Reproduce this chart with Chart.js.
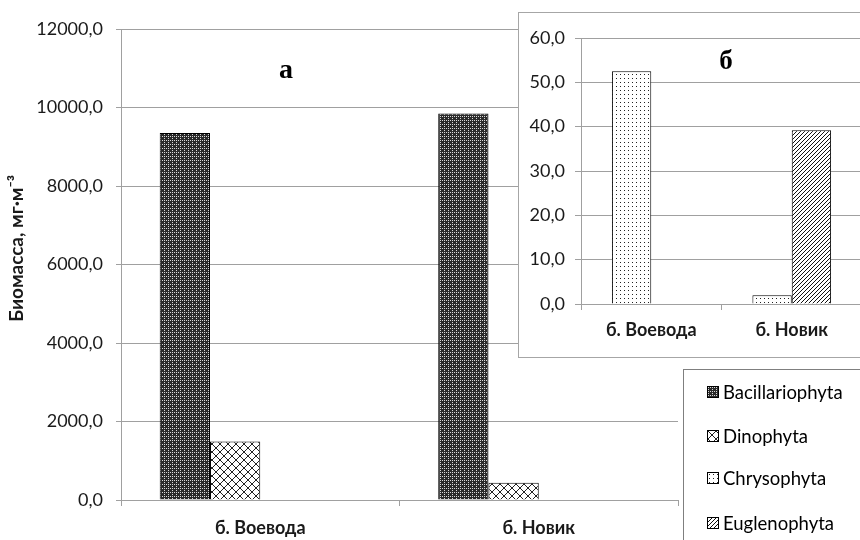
<!DOCTYPE html>
<html>
<head>
<meta charset="utf-8">
<script src="https://cdn.jsdelivr.net/npm/chart.js@4.4.0/dist/chart.umd.min.js"></script>
<style>
  html, body { margin: 0; padding: 0; background: #fff; overflow: hidden; }
  #wrap { position: relative; width: 860px; height: 540px; overflow: hidden; font-family: Lato, sans-serif; }
  #main { position: absolute; left: 0; top: 0; }
  #insetBox { position: absolute; left: 518px; top: 12px; width: 360px; height: 344px; border: 1px solid #a6a6a6; background: #fff; }
  #inset { display: block; }
  #legend { position: absolute; left: 683px; top: 369px; width: 200px; height: 200px; border: 1px solid #7f7f7f; background: #fff; }
  .lab { position: absolute; font-family: "Liberation Serif", serif; font-weight: bold; text-align: center; color: #000; }
  .item { position: absolute; left: 23px; height: 20px; display: flex; align-items: center; font-size: 18.5px; color: #000; white-space: nowrap; }
  .item canvas { margin-right: 4px; border: 1px solid #000; }
</style>
</head>
<body>
<div id="wrap">
  <canvas id="main" width="860" height="540"></canvas>
  <div class="lab" style="left:266px; top:55px; width:40px; font-size:28px; line-height:28px;">а</div>
  <div id="insetBox"><canvas id="inset" width="360" height="344"></canvas></div>
  <div class="lab" style="left:706px; top:47px; width:40px; font-size:27px; line-height:27px;">б</div>
  <div id="legend"></div>
</div>
<script>
const categories = ["б. Воевода", "б. Новик"];
const seriesNames = ["Bacillariophyta", "Dinophyta", "Chrysophyta", "Euglenophyta"];
const bacillariophyta = [9350, 9850];
const dinophyta = [1490, 440];
const chrysophyta = [52.5, 2.0];
const euglenophyta = [0, 39.2];
const mainTicks = { min: 0, max: 12000, step: 2000 };
const insetTicks = { min: 0, max: 60, step: 10 };
const yTitle = "Биомасса, мг·м⁻³";

const gridColor = "#a0a0a0";
const tickFont = { family: "Lato", size: 18 };
const boldFont = { family: "Lato", size: 18, weight: "bold" };

function fmt(v) {
  return v.toFixed(1).replace(".", ",");
}

function makePattern(kind) {
  const c = document.createElement("canvas");
  const g = c.getContext("2d");
  if (kind === "grid") {
    c.width = c.height = 4;
    g.fillStyle = "#2a2a2a";
    g.fillRect(0, 0, 4, 4);
    g.fillStyle = "#d8d8d8";
    g.fillRect(0, 0, 1, 1);
    g.fillRect(2, 0, 1, 1);
    g.fillRect(0, 2, 1, 1);
  } else if (kind === "cross") {
    c.width = c.height = 8;
    g.fillStyle = "#fff";
    g.fillRect(0, 0, 8, 8);
    g.fillStyle = "#222";
    for (let i = 0; i < 8; i++) {
      g.fillRect(i, i, 1, 1);
      g.fillRect(i, 7 - i, 1, 1);
    }
  } else if (kind === "dots") {
    c.width = c.height = 4;
    g.fillStyle = "#fff";
    g.fillRect(0, 0, 4, 4);
    g.fillStyle = "#222";
    g.fillRect(1, 1, 1, 1);
  } else {
    c.width = c.height = 4;
    g.fillStyle = "#fff";
    g.fillRect(0, 0, 4, 4);
    g.fillStyle = "#111";
    for (let i = 0; i < 4; i++) g.fillRect(i, 3 - i, 1, 1);
  }
  return g.createPattern(c, "repeat");
}

const patterns = {
  Bacillariophyta: makePattern("grid"),
  Dinophyta: makePattern("cross"),
  Chrysophyta: makePattern("dots"),
  Euglenophyta: makePattern("diag"),
};

function bar(label, data, catPct, border, fill) {
  return {
    label: label,
    data: data,
    backgroundColor: fill || patterns[label],
    borderColor: "#000",
    borderWidth: border,
    categoryPercentage: catPct,
    barPercentage: 1,
  };
}

// main chart (а): the two small groups are too low to show at this scale
new Chart(document.getElementById("main"), {
  type: "bar",
  data: {
    labels: categories,
    datasets: [
      bar(seriesNames[0], bacillariophyta, 0.722, 1),
      bar(seriesNames[1], dinophyta, 0.722, 1),
      bar(seriesNames[2], chrysophyta, 0.722, 0, "rgba(255,255,255,0)"),
      bar(seriesNames[3], euglenophyta, 0.722, 0, "rgba(255,255,255,0)"),
    ],
  },
  options: {
    responsive: false,
    animation: false,
    layout: { padding: { top: 29, right: 182, left: 0, bottom: 0 } },
    plugins: { legend: { display: false }, tooltip: { enabled: false } },
    scales: {
      x: {
        grid: { drawOnChartArea: false, drawTicks: true, tickLength: 6, color: gridColor },
        border: { color: gridColor },
        ticks: { font: boldFont, color: "#1a1a1a", padding: 11, maxRotation: 0 },
        afterFit(s) { s.height = 40; },
      },
      y: {
        min: mainTicks.min,
        max: mainTicks.max,
        grid: { color: gridColor, tickLength: 5 },
        border: { color: gridColor },
        ticks: { stepSize: mainTicks.step, callback: fmt, font: tickFont, color: "#1a1a1a", padding: 13 },
        title: {
          display: true,
          text: "       " + yTitle,
          font: { family: "Lato", size: 19, weight: "bold" },
          color: "#1a1a1a",
          padding: { top: 5, bottom: 0 },
        },
        afterFit(s) { s.width = 121; },
      },
    },
  },
});

// inset chart (б)
new Chart(document.getElementById("inset"), {
  type: "bar",
  data: {
    labels: categories,
    datasets: [
      bar(seriesNames[2], chrysophyta, 0.56, 1),
      bar(seriesNames[3], euglenophyta, 0.56, 1),
    ],
  },
  options: {
    responsive: false,
    animation: false,
    layout: { padding: { top: 25, right: 17, left: 0, bottom: 0 } },
    plugins: { legend: { display: false }, tooltip: { enabled: false } },
    scales: {
      x: {
        grid: { drawOnChartArea: false, drawTicks: true, tickLength: 6, color: gridColor },
        border: { color: gridColor },
        ticks: { font: boldFont, color: "#1a1a1a", padding: 9, maxRotation: 0 },
        afterFit(s) { s.height = 53; },
      },
      y: {
        min: insetTicks.min,
        max: insetTicks.max,
        grid: { color: gridColor, tickLength: 6 },
        border: { color: gridColor },
        ticks: { stepSize: insetTicks.step, callback: fmt, font: tickFont, color: "#1a1a1a", padding: 10 },
        afterFit(s) { s.width = 62; },
      },
    },
  },
});

// legend
const legend = document.getElementById("legend");
const itemTops = [12, 56, 98, 143];
seriesNames.forEach((name, i) => {
  const item = document.createElement("div");
  item.className = "item";
  item.style.top = itemTops[i] + "px";
  const sw = document.createElement("canvas");
  sw.width = 10;
  sw.height = 10;
  const g = sw.getContext("2d");
  g.fillStyle = patterns[name];
  g.fillRect(0, 0, 10, 10);
  item.appendChild(sw);
  item.appendChild(document.createTextNode(name));
  legend.appendChild(item);
});
</script>
</body>
</html>
